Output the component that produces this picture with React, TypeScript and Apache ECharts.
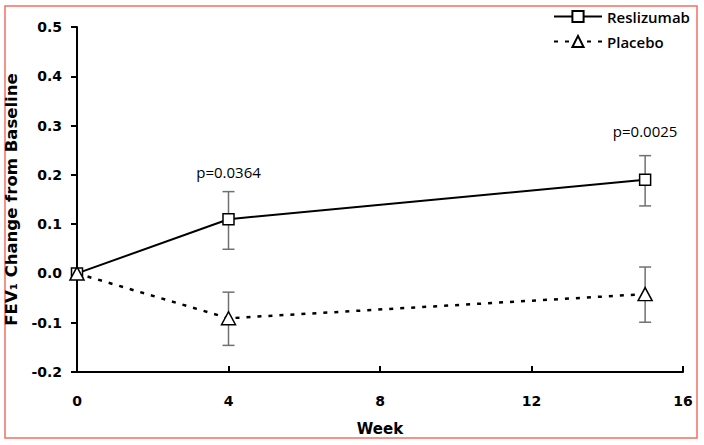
import React, { useEffect, useRef } from "react";
import * as echarts from "echarts";

const weeks = [0, 4, 15];
const reslizumab = [0, 0.11, 0.19];
const reslizumabLow = [null, 0.049, 0.137];
const reslizumabHigh = [null, 0.166, 0.239];
const placebo = [0, -0.091, -0.042];
const placeboLow = [null, -0.146, -0.099];
const placeboHigh = [null, -0.038, 0.013];
const pLabels = ["p=0.0364", "p=0.0025"];
const pLabelWeeks = [4, 15];
const pLabelValues = [0.205, 0.29];
const xTicks = [0, 4, 8, 12, 16];
const yTickMin = -0.2;
const yTickMax = 0.5;

const WIDE = "'DejaVu Sans', sans-serif";
const OPEN = "'Open Sans', sans-serif";

export default function App() {
  const ref = useRef<HTMLDivElement>(null);
  useEffect(() => {
    if (!ref.current) return;
    const chart = echarts.init(ref.current, null, { renderer: "svg" });
    const errData: any[] = [];
    weeks.forEach((w, i) => {
      if (reslizumabLow[i] != null) errData.push([w, reslizumabLow[i], reslizumabHigh[i]]);
      if (placeboLow[i] != null) errData.push([w, placeboLow[i], placeboHigh[i]]);
    });
    const option: any = {
      animation: false,
      backgroundColor: "#fff",
      textStyle: { fontFamily: OPEN },
      graphic: [
        {
          type: "rect",
          shape: { x: 5, y: 6, width: 692, height: 432 },
          style: { fill: "none", stroke: "#f36f60", lineWidth: 1.5 },
          silent: true,
        },
      ],
      legend: {
        orient: "vertical",
        left: 548,
        top: 4,
        itemWidth: 48,
        itemHeight: 14,
        itemGap: 10,
        textStyle: { fontSize: 15, color: "#000", fontFamily: OPEN, fontWeight: 600 },
        data: ["Reslizumab", "Placebo"],
      },
      grid: { left: 77, right: 21, top: 27, bottom: 73, containLabel: false, outerBoundsMode: "none" },
      xAxis: {
        type: "value",
        min: xTicks[0],
        max: xTicks[xTicks.length - 1],
        interval: 4,
        name: "Week",
        nameLocation: "middle",
        nameGap: 49,
        nameTextStyle: { fontSize: 15, fontWeight: "bold", color: "#000", fontFamily: WIDE },
        splitLine: { show: false },
        axisLine: { onZero: false, lineStyle: { color: "#000", width: 2 } },
        axisTick: { inside: true, length: 6, lineStyle: { color: "#000", width: 2 } },
        axisLabel: { fontSize: 14, color: "#000", margin: 22, fontFamily: WIDE, fontWeight: "bold" },
      },
      yAxis: {
        type: "value",
        min: yTickMin,
        max: yTickMax,
        interval: 0.1,
        name: "FEV\u2081 Change from Baseline",
        nameLocation: "middle",
        nameGap: 48,
        nameTextStyle: { fontSize: 16.5, fontWeight: "bold", color: "#000", fontFamily: WIDE },
        splitLine: { show: false },
        axisLine: { show: true, onZero: false, lineStyle: { color: "#000", width: 2 } },
        axisTick: { show: true, length: 6, lineStyle: { color: "#000", width: 2 } },
        axisLabel: {
          fontSize: 14,
          color: "#000",
          margin: 15,
          fontFamily: WIDE,
          fontWeight: "bold",
          formatter: (v: number) => v.toFixed(1),
        },
      },
      series: [
        {
          type: "custom",
          name: "err",
          z: 1,
          silent: true,
          data: errData,
          renderItem: (params: any, api: any) => {
            const x = api.value(0);
            const lo = api.coord([x, api.value(1)]);
            const hi = api.coord([x, api.value(2)]);
            const w = 6;
            const style = { stroke: "#707070", lineWidth: 1.5 };
            return {
              type: "group",
              children: [
                { type: "line", shape: { x1: lo[0], y1: lo[1], x2: hi[0], y2: hi[1] }, style },
                { type: "line", shape: { x1: lo[0] - w, y1: lo[1], x2: lo[0] + w, y2: lo[1] }, style },
                { type: "line", shape: { x1: hi[0] - w, y1: hi[1], x2: hi[0] + w, y2: hi[1] }, style },
              ],
            };
          },
        },
        {
          type: "line",
          name: "Reslizumab",
          z: 3,
          data: weeks.map((w, i) => [w, reslizumab[i]]),
          symbol: "rect",
          symbolSize: 11,
          showAllSymbol: true,
          lineStyle: { color: "#000", width: 2 },
          itemStyle: { color: "#fff", borderColor: "#000", borderWidth: 1.5 },
          markPoint: {
            symbol: "circle",
            symbolSize: 1,
            itemStyle: { color: "rgba(0,0,0,0)" },
            label: {
              show: true,
              position: "inside",
              formatter: (p: any) => p.name,
              fontSize: 15,
              color: "#000",
              fontFamily: OPEN,
            },
            data: pLabels.map((t, i) => ({ name: t, coord: [pLabelWeeks[i], pLabelValues[i]] })),
          },
        },
        {
          type: "line",
          name: "Placebo",
          z: 3,
          data: weeks.map((w, i) => [w, placebo[i]]),
          symbol: "triangle",
          symbolSize: [14, 13],
          showAllSymbol: true,
          lineStyle: { color: "#000", width: 2.5, type: [4, 7] },
          itemStyle: { color: "#fff", borderColor: "#000", borderWidth: 1.5 },
        },
      ],
    };
    chart.setOption(option);
    return () => chart.dispose();
  }, []);
  return (
    <div
      ref={ref}
      style={{ position: "fixed", left: 0, top: 0, width: 704, height: 445 }}
    />
  );
}
